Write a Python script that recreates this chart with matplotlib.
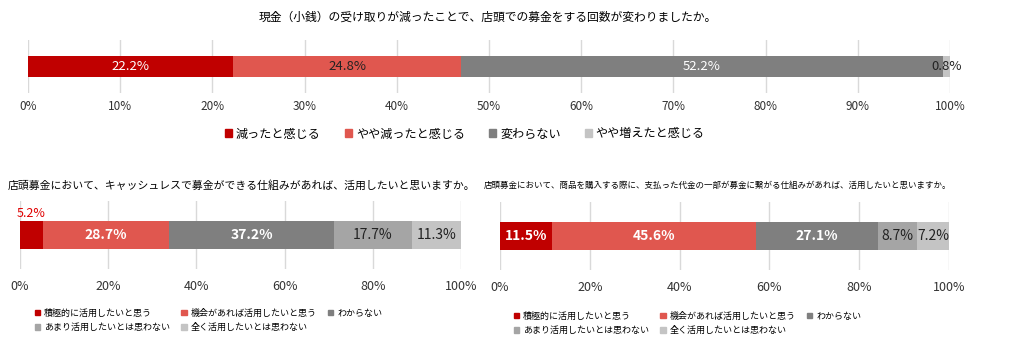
import matplotlib.pyplot as plt
from matplotlib.patches import Patch

plt.rcParams['font.family'] = ['Noto Sans CJK JP', 'DejaVu Sans']

# top chart
top_title = "現金（小銭）の受け取りが減ったことで、店頭での募金をする回数が変わりましたか。"
top_cats = ["減ったと感じる", "やや減ったと感じる", "変わらない", "やや増えたと感じる"]
top_vals = [22.2, 24.8, 52.2, 0.8]
top_colors = ["#C00000", "#E0574F", "#7F7F7F", "#C4C4C4"]
top_txt = ["white", "#222222", "white", "#222222"]

# bottom charts
left_title = "店頭募金において、キャッシュレスで募金ができる仕組みがあれば、活用したいと思いますか。"
right_title = "店頭募金において、商品を購入する際に、支払った代金の一部が募金に繋がる仕組みがあれば、活用したいと思いますか。"
bot_cats = ["積極的に活用したいと思う", "機会があれば活用したいと思う", "わからない",
            "あまり活用したいとは思わない", "全く活用したいとは思わない"]
left_vals = [5.2, 28.7, 37.2, 17.7, 11.3]
right_vals = [11.5, 45.6, 27.1, 8.7, 7.2]
bot_colors = ["#C00000", "#E0574F", "#7F7F7F", "#A5A5A5", "#C4C4C4"]

W, H = 1024, 363
fig = plt.figure(figsize=(W / 100, H / 100), dpi=100)


def px_axes(x0, y0, x1, y1):
    return fig.add_axes([x0 / W, 1 - y1 / H, (x1 - x0) / W, (y1 - y0) / H])


def style(ax, ticks, fs, pad):
    ax.set_xlim(0, 100)
    ax.set_ylim(-0.5, 0.5)
    ax.set_xticks(ticks)
    ax.set_xticklabels(["%d%%" % t for t in ticks], fontsize=fs, color="#333333")
    ax.set_yticks([])
    ax.tick_params(axis="x", length=0, pad=pad)
    for s in ax.spines.values():
        s.set_visible(False)
    ax.grid(axis="x", color="#D9D9D9", linewidth=1)
    ax.set_axisbelow(True)


# ---- top ----
ax = px_axes(28, 40, 950, 93)
left = 0
for v, c, tc in zip(top_vals, top_colors, top_txt):
    ax.barh(0, v, left=left, height=0.38, color=c)
    ax.text(left + v / 2, 0, "%.1f%%" % v, ha="center", va="center", color=tc, fontsize=9.5)
    left += v
style(ax, range(0, 101, 10), 8.5, 5)
fig.text(488 / W, 1 - 17 / H, top_title, ha="center", va="center", fontsize=8.5)
handles = [Patch(color=c, label=l) for c, l in zip(top_colors, top_cats)]
fig.legend(handles=handles, loc="center", bbox_to_anchor=(465 / W, 1 - 134 / H), ncol=4,
           frameon=False, fontsize=8.7, handlelength=0.6, handleheight=0.6,
           handletextpad=0.3, columnspacing=2.0)


def bottom(ax, vals, txt, bold, leg_x, leg_y):
    left = 0
    for i, (v, c) in enumerate(zip(vals, bot_colors)):
        ax.barh(0, v, left=left, height=0.41, color=c)
        if v < 6:
            ax.text(left + v / 2, 0.31, "%.1f%%" % v, ha="center", va="center",
                    color="#E00000", fontsize=9)
        else:
            ax.text(left + v / 2, 0, "%.1f%%" % v, ha="center", va="center", color=txt[i],
                    fontsize=10, fontweight="bold" if bold[i] else "normal")
        left += v
    style(ax, range(0, 101, 20), 9, 8)
    order = [0, 3, 1, 4, 2]
    hs = [Patch(color=bot_colors[k], label=bot_cats[k]) for k in order]
    fig.legend(handles=hs, loc="upper left", bbox_to_anchor=(leg_x / W, 1 - leg_y / H), ncol=3,
               frameon=False, fontsize=6.5, handlelength=0.6, handleheight=0.6,
               handletextpad=0.4, columnspacing=1.3, borderpad=0, labelspacing=0.6)


axl = px_axes(20, 201, 461, 269)
bottom(axl, left_vals, ["white", "white", "white", "#222222", "#222222"],
       [True, True, True, False, False], 30, 304)
fig.text(8 / W, 1 - 185 / H, left_title, ha="left", va="center", fontsize=7.8)

axr = px_axes(500, 202, 949, 270)
bottom(axr, right_vals, ["white", "white", "white", "#222222", "#222222"],
       [True, True, True, False, False], 509, 307)
fig.text(484 / W, 1 - 185 / H, right_title, ha="left", va="center", fontsize=6.1)

fig.savefig("out.png", dpi=100)
